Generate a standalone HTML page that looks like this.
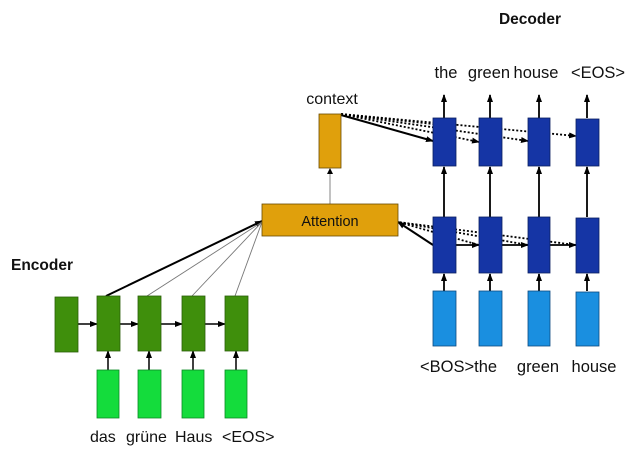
<!DOCTYPE html>
<html><head><style>
html,body{margin:0;padding:0;background:#fff;}
svg{display:block;}
text{font-family:"Liberation Sans",sans-serif;fill:#111;}
</style></head><body>
<svg width="640" height="458" viewBox="0 0 640 458">
<defs>
<marker id="a" markerWidth="8" markerHeight="8" refX="7" refY="4" orient="auto" markerUnits="userSpaceOnUse"><path d="M0,1 L8,4 L0,7 z" fill="#000"/></marker>
</defs>
<text x="530" y="24" font-size="15.5" font-weight="bold" text-anchor="middle">Decoder</text>
<text x="11" y="270" font-size="15.5" font-weight="bold">Encoder</text>
<text x="332" y="104" font-size="16" text-anchor="middle">context</text>
<text x="446" y="78" font-size="16.5" text-anchor="middle">the</text>
<text x="489" y="78" font-size="16.5" text-anchor="middle">green</text>
<text x="536" y="78" font-size="16.5" text-anchor="middle">house</text>
<text x="598" y="78" font-size="16.5" text-anchor="middle">&lt;EOS&gt;</text>
<text x="420" y="372" font-size="16.5">&lt;BOS&gt;the</text>
<text x="538" y="372" font-size="16.5" text-anchor="middle">green</text>
<text x="594" y="372" font-size="16.5" text-anchor="middle">house</text>
<text x="90" y="442" font-size="16">das</text>
<text x="126" y="442" font-size="16">grüne</text>
<text x="175" y="442" font-size="16">Haus</text>
<text x="222" y="442" font-size="16">&lt;EOS&gt;</text>

<g stroke="#000" stroke-width="1.5" fill="none">
<line x1="78" y1="324" x2="97" y2="324" marker-end="url(#a)"/>
<line x1="120" y1="324" x2="138" y2="324" marker-end="url(#a)"/>
<line x1="161" y1="324" x2="182" y2="324" marker-end="url(#a)"/>
<line x1="205" y1="324" x2="225" y2="324" marker-end="url(#a)"/>
<line x1="108" y1="370" x2="108" y2="351" marker-end="url(#a)"/>
<line x1="149" y1="370" x2="149" y2="351" marker-end="url(#a)"/>
<line x1="193" y1="370" x2="193" y2="351" marker-end="url(#a)"/>
<line x1="236" y1="370" x2="236" y2="351" marker-end="url(#a)"/>
<line x1="106" y1="296" x2="262" y2="221" stroke-width="2" marker-end="url(#a)"/>
</g>
<g stroke="#777" stroke-width="0.9">
<line x1="147" y1="296" x2="262" y2="222"/>
<line x1="192" y1="296" x2="262" y2="222"/>
<line x1="235" y1="296" x2="262" y2="222"/>
<line x1="330" y1="204" x2="330" y2="169"/>
</g>
<path d="M327,174 L330,168 L333,174z" fill="#000"/>

<g stroke="#000" stroke-width="1.8" fill="none">
<line x1="444" y1="118" x2="444" y2="95" marker-end="url(#a)"/>
<line x1="490" y1="118" x2="490" y2="95" marker-end="url(#a)"/>
<line x1="539" y1="118" x2="539" y2="95" marker-end="url(#a)"/>
<line x1="587" y1="118" x2="587" y2="95" marker-end="url(#a)"/>
<line x1="444" y1="217" x2="444" y2="167" marker-end="url(#a)"/>
<line x1="490" y1="217" x2="490" y2="167" marker-end="url(#a)"/>
<line x1="539" y1="217" x2="539" y2="167" marker-end="url(#a)"/>
<line x1="587" y1="217" x2="587" y2="167" marker-end="url(#a)"/>
<line x1="444" y1="291" x2="444" y2="274" marker-end="url(#a)"/>
<line x1="490" y1="291" x2="490" y2="274" marker-end="url(#a)"/>
<line x1="539" y1="291" x2="539" y2="274" marker-end="url(#a)"/>
<line x1="587" y1="291" x2="587" y2="274" marker-end="url(#a)"/>
<line x1="456" y1="245" x2="479" y2="245" marker-end="url(#a)"/>
<line x1="502" y1="245" x2="528" y2="245" marker-end="url(#a)"/>
<line x1="550" y1="245" x2="576" y2="245" marker-end="url(#a)"/>
<line x1="341" y1="115" x2="433" y2="141" stroke-width="2" marker-end="url(#a)"/>
<line x1="433" y1="245" x2="398" y2="222" stroke-width="2" marker-end="url(#a)"/>
</g>
<g stroke="#000" stroke-width="1.8" stroke-dasharray="2,2" fill="none">
<line x1="341" y1="114" x2="479" y2="142" marker-end="url(#a)"/>
<line x1="341" y1="114" x2="528" y2="141" marker-end="url(#a)"/>
<line x1="341" y1="114" x2="576" y2="136" marker-end="url(#a)"/>
<line x1="341" y1="114" x2="433" y2="124"/>
<line x1="479" y1="245" x2="398" y2="222"/>
<line x1="528" y1="245" x2="398" y2="222"/>
<line x1="576" y1="245" x2="398" y2="222"/>
</g>

<g fill="#3f8f0c" stroke="#2a5e08" stroke-width="0.8">
<rect x="55" y="297" width="23" height="55"/>
<rect x="97" y="296" width="23" height="55"/>
<rect x="138" y="296" width="23" height="55"/>
<rect x="182" y="296" width="23" height="55"/>
<rect x="225" y="296" width="23" height="55"/>
</g>
<g fill="#14dc3c" stroke="#0c8a25" stroke-width="0.8">
<rect x="97" y="370" width="22" height="48"/>
<rect x="138" y="370" width="23" height="48"/>
<rect x="182" y="370" width="22" height="48"/>
<rect x="225" y="370" width="22" height="48"/>
</g>
<g fill="#1535a5" stroke="#0a1f60" stroke-width="0.8">
<rect x="433" y="118" width="23" height="48"/>
<rect x="479" y="118" width="23" height="48"/>
<rect x="528" y="118" width="22" height="48"/>
<rect x="576" y="119" width="23" height="47"/>
<rect x="433" y="217" width="23" height="56"/>
<rect x="479" y="217" width="23" height="56"/>
<rect x="528" y="217" width="22" height="56"/>
<rect x="576" y="218" width="23" height="55"/>
</g>
<g fill="#1a8fe0" stroke="#0c4a80" stroke-width="0.8">
<rect x="433" y="291" width="23" height="55"/>
<rect x="479" y="291" width="23" height="55"/>
<rect x="528" y="291" width="22" height="55"/>
<rect x="576" y="292" width="23" height="54"/>
</g>
<rect x="319" y="114" width="22" height="54" fill="#e0a00c" stroke="#6a4a00" stroke-width="0.8"/>
<rect x="262" y="204" width="136" height="32" fill="#e0a00c" stroke="#6a4a00" stroke-width="0.8"/>
<text x="330" y="226" font-size="14.5" text-anchor="middle" fill="#222">Attention</text>
</svg>
</body></html>
